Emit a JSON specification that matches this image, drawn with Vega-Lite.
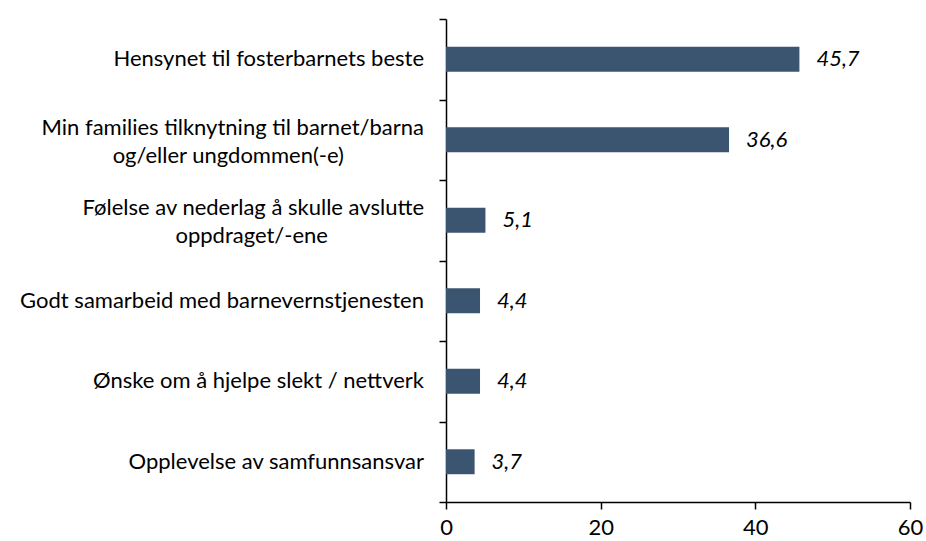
{
  "$schema": "https://vega.github.io/schema/vega-lite/v6.json",
  "width": 464,
  "height": 483,
  "autosize": {"type": "none"},
  "padding": {"left": 446, "top": 19, "right": 16, "bottom": 39},
  "background": "white",
  "data": {
    "values": [
      {"cat": "Hensynet til fosterbarnets beste", "v": 45.7},
      {"cat": "Min families tilknytning til barnet/barna|og/eller ungdommen(-e)\u2800\u2800\u2800\u2800\u2800", "v": 36.6},
      {"cat": "Følelse av nederlag å skulle avslutte|oppdraget/-ene\u2800\u2800\u2800\u2800\u2800\u2800", "v": 5.1},
      {"cat": "Godt samarbeid med barnevernstjenesten", "v": 4.4},
      {"cat": "Ønske om å hjelpe slekt / nettverk", "v": 4.4},
      {"cat": "Opplevelse av samfunnsansvar", "v": 3.7}
    ]
  },
  "encoding": {
    "y": {
      "field": "cat",
      "type": "nominal",
      "sort": null,
      "scale": {"paddingInner": 0, "paddingOuter": 0},
      "axis": {
        "title": null,
        "tickBand": "extent",
        "tickSize": 7,
        "tickColor": "black",
        "domainColor": "black",
        "tickWidth": 1.5,
        "domainWidth": 1.5,
        "labels": false
      }
    },
    "x": {
      "field": "v",
      "type": "quantitative",
      "scale": {"domain": [0, 60], "nice": false},
      "axis": {
        "title": null,
        "values": [0, 20, 40, 60],
        "grid": false,
        "tickSize": 7,
        "tickColor": "black",
        "domainColor": "black",
        "tickWidth": 1.5,
        "domainWidth": 1.5,
        "labelPadding": 8,
        "labelFont": "Lato",
        "labelFontSize": 22,
        "labelColor": "black",
        "labelFlush": false,
        "labelOverlap": false
      }
    }
  },
  "layer": [
    {
      "mark": {"type": "bar", "color": "#3B5571", "height": {"band": 0.31}}
    },
    {
      "mark": {"type": "text", "align": "left", "baseline": "middle", "dx": 17, "font": "Lato", "fontSize": 22, "fontStyle": "italic", "color": "black"},
      "encoding": {"text": {"field": "v", "type": "quantitative", "format": ".1f"}}
    },
    {
      "mark": {"type": "text", "align": "right", "baseline": "middle", "dx": -22, "dy": {"expr": "indexof(datum.cat, '|') >= 0 ? -12 : 0"}, "lineBreak": "|", "lineHeight": 28, "font": "Lato", "fontSize": 22, "color": "black"},
      "encoding": {"x": {"datum": 0}, "text": {"field": "cat"}}
    }
  ],
  "config": {
    "view": {"stroke": null},
    "locale": {"number": {"decimal": ",", "thousands": " ", "grouping": [3], "currency": ["", " kr"]}}
  }
}
